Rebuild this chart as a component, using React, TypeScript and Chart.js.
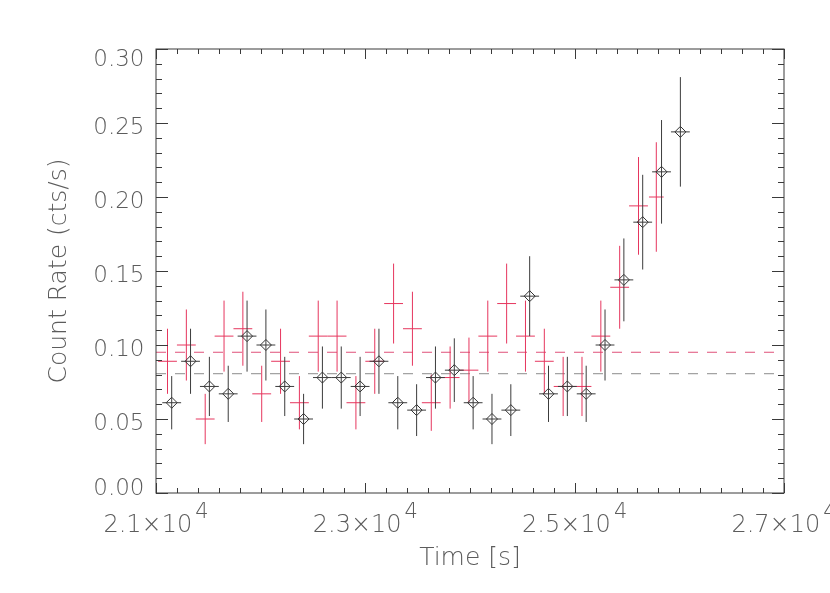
import { useEffect, useRef } from "react";
import { Chart, registerables, Plugin } from "chart.js";

Chart.register(...registerables);

const FONT = "'DejaVu Sans ExtraLight', 'DejaVu Sans', 'Liberation Sans', sans-serif";
const TEXT_COLOR = "#5c5c5c";

// black light curve (diamonds)
const blackTimes = [
  21150, 21330, 21510, 21690, 21870, 22050, 22230, 22410, 22590, 22770,
  22950, 23130, 23310, 23490, 23670, 23850, 24030, 24210, 24390, 24570,
  24750, 24930, 25110, 25290, 25470, 25650, 25830, 26010,
];
const blackRates = [
  0.061, 0.089, 0.072, 0.067, 0.106, 0.1, 0.072, 0.05, 0.078, 0.078,
  0.072, 0.089, 0.061, 0.056, 0.078, 0.083, 0.061, 0.05, 0.056, 0.133,
  0.067, 0.072, 0.067, 0.1, 0.144, 0.183, 0.217, 0.244,
];
const blackErrors = [
  0.018, 0.022, 0.02, 0.019, 0.024, 0.024, 0.02, 0.017, 0.021, 0.021,
  0.02, 0.022, 0.018, 0.0175, 0.021, 0.0215, 0.018, 0.017, 0.0175, 0.027,
  0.019, 0.02, 0.019, 0.024, 0.028, 0.032, 0.035, 0.037,
];
const blackHalfWidths = [
  90, 90, 90, 90, 90, 90, 90, 90, 90, 90, 90, 90, 90, 90, 90, 90, 90, 90,
  90, 90, 90, 90, 90, 90, 90, 90, 90, 90,
];

// red light curve (crosses only)
const redTimes = [
  21110, 21290, 21470, 21650, 21830, 22010, 22190, 22370, 22550, 22730,
  22910, 23090, 23270, 23450, 23630, 23810, 23990, 24170, 24350, 24530,
  24710, 24890, 25070, 25250, 25430, 25610, 25780,
];
const redRates = [
  0.089, 0.1, 0.05, 0.106, 0.111, 0.067, 0.089, 0.061, 0.106, 0.106,
  0.061, 0.089, 0.128, 0.111, 0.061, 0.078, 0.083, 0.106, 0.128, 0.106,
  0.089, 0.072, 0.072, 0.106, 0.139, 0.194, 0.2,
];
const redErrors = [
  0.022, 0.024, 0.017, 0.024, 0.025, 0.019, 0.022, 0.018, 0.024, 0.024,
  0.018, 0.022, 0.027, 0.025, 0.019, 0.021, 0.022, 0.024, 0.027, 0.024,
  0.022, 0.02, 0.02, 0.024, 0.028, 0.033, 0.037,
];
const redHalfWidths = [
  90, 90, 90, 90, 90, 90, 90, 90, 90, 90, 90, 90, 90, 90, 90, 90, 90, 90,
  90, 90, 90, 90, 90, 90, 90, 90, 70,
];

// mean levels (dashed)
const levelSpan = [21000, 26970];
const redLevel = 0.0951;
const blackLevel = 0.0806;

// axes
const xTickValues = [21000, 23000, 25000, 27000];
const xTickLabels = ["2.1", "2.3", "2.5", "2.7"];
const xTickExponent = "4";
const yTickValues = [0, 0.05, 0.1, 0.15, 0.2, 0.25, 0.3];
const yTickLabels = ["0.00", "0.05", "0.10", "0.15", "0.20", "0.25", "0.30"];
const xMinorStep = 200;
const yMinorStep = 0.01;

type ErrPoint = { x: number; y: number; err: number; hw: number };

const toPoints = (t: number[], r: number[], e: number[], h: number[]): ErrPoint[] =>
  t.map((x, i) => ({ x, y: r[i], err: e[i], hw: h[i] }));

const frame: Plugin = {
  id: "frame",
  beforeDatasetDraw(chart, args) {
    const ds: any = chart.data.datasets[args.index];
    if (!ds.errorColor) return;
    const { ctx } = chart;
    const xs = chart.scales.x;
    const ys = chart.scales.y;
    ctx.save();
    ctx.strokeStyle = ds.errorColor;
    ctx.lineWidth = 1;
    (ds.data as ErrPoint[]).forEach((p) => {
      const px = xs.getPixelForValue(p.x);
      const py = ys.getPixelForValue(p.y);
      ctx.beginPath();
      ctx.moveTo(px, ys.getPixelForValue(p.y - p.err));
      ctx.lineTo(px, ys.getPixelForValue(p.y + p.err));
      ctx.moveTo(xs.getPixelForValue(p.x - p.hw), py);
      ctx.lineTo(xs.getPixelForValue(p.x + p.hw), py);
      ctx.stroke();
    });
    ctx.restore();
  },
  afterDraw(chart) {
    const { ctx, chartArea } = chart;
    const { left, right, top, bottom } = chartArea;
    const xs = chart.scales.x;
    const ys = chart.scales.y;
    ctx.save();
    ctx.strokeStyle = "#3a3a3a";
    ctx.lineWidth = 1;
    ctx.strokeRect(left, top, right - left, bottom - top);

    ctx.beginPath();
    for (let v = xs.min; v <= xs.max + 1e-6; v += xMinorStep) {
      const px = Math.round(xs.getPixelForValue(v)) + 0.5;
      const major = xTickValues.some((t) => Math.abs(t - v) < 1e-6);
      const len = major ? 10 : 5;
      ctx.moveTo(px, bottom);
      ctx.lineTo(px, bottom - len);
      ctx.moveTo(px, top);
      ctx.lineTo(px, top + len);
    }
    for (let v = ys.min; v <= ys.max + 1e-9; v += yMinorStep) {
      const py = Math.round(ys.getPixelForValue(v)) + 0.5;
      const major = yTickValues.some((t) => Math.abs(t - v) < 1e-6);
      const len = major ? 12 : 6;
      ctx.moveTo(left, py);
      ctx.lineTo(left + len, py);
      ctx.moveTo(right, py);
      ctx.lineTo(right - len, py);
    }
    ctx.stroke();

    ctx.fillStyle = TEXT_COLOR;
    ctx.textBaseline = "alphabetic";

    // y tick labels
    ctx.font = `200 23px ${FONT}`;
    ctx.textAlign = "right";
    yTickValues.forEach((v, i) => {
      const py = ys.getPixelForValue(v);
      const base = Math.min(Math.max(py + 10.5, top + 17.4), bottom + 1.7);
      ctx.fillText(yTickLabels[i], left - 11.5, base);
    });

    // x tick labels with exponent
    ctx.textAlign = "left";
    xTickValues.forEach((v, i) => {
      const px = xs.getPixelForValue(v);
      const text = `${xTickLabels[i]}\u00d710`;
      ctx.font = `200 24px ${FONT}`;
      const w1 = ctx.measureText(text).width;
      ctx.font = `200 21px ${FONT}`;
      const w2 = ctx.measureText(xTickExponent).width;
      const start = px - (w1 + 3 + w2) / 2;
      ctx.font = `200 24px ${FONT}`;
      ctx.fillText(text, start, bottom + 39);
      ctx.font = `200 21px ${FONT}`;
      ctx.fillText(xTickExponent, start + w1 + 3, bottom + 25);
    });
    ctx.restore();
  },
};

export default function App() {
  const canvasRef = useRef<HTMLCanvasElement>(null);

  useEffect(() => {
    if (!canvasRef.current) return;
    const chart = new Chart(canvasRef.current, {
      type: "scatter",
      data: {
        datasets: [
          {
            label: "black",
            data: toPoints(blackTimes, blackRates, blackErrors, blackHalfWidths),
            // @ts-ignore
            errorColor: "#3c3c3c",
            pointStyle: "rectRot",
            pointRadius: 5.5,
            borderColor: "#333333",
            borderWidth: 1,
            backgroundColor: "rgba(0,0,0,0)",
            order: 0,
          },
          {
            label: "red",
            data: toPoints(redTimes, redRates, redErrors, redHalfWidths),
            // @ts-ignore
            errorColor: "#e6365e",
            pointRadius: 0,
            order: 1,
          },
          {
            type: "line",
            label: "red level",
            data: levelSpan.map((x) => ({ x, y: redLevel })),
            borderColor: "#e0507a",
            borderWidth: 1,
            borderDash: [10, 9],
            pointRadius: 0,
            order: 2,
          },
          {
            type: "line",
            label: "black level",
            data: levelSpan.map((x) => ({ x, y: blackLevel })),
            borderColor: "#8c8c8c",
            borderWidth: 1,
            borderDash: [10, 9],
            pointRadius: 0,
            order: 3,
          },
        ],
      },
      options: {
        animation: false,
        responsive: false,
        events: [],
        layout: { padding: { top: 49, right: 46, left: 0, bottom: 0 } },
        plugins: { legend: { display: false }, tooltip: { enabled: false } },
        scales: {
          x: {
            type: "linear",
            min: 21000,
            max: 27000,
            grid: { display: false },
            border: { display: false },
            ticks: { display: false },
            title: {
              display: true,
              text: "Time [s]",
              color: TEXT_COLOR,
              font: { family: FONT, size: 25, weight: 200 as any },
              padding: { top: 0, bottom: 20 },
            },
            afterFit: (s) => {
              s.height = 100;
            },
          },
          y: {
            type: "linear",
            min: 0,
            max: 0.3,
            grid: { display: false },
            border: { display: false },
            ticks: { display: false },
            title: {
              display: true,
              text: "Count Rate (cts/s)",
              color: TEXT_COLOR,
              font: { family: FONT, size: 25, weight: 200 as any },
              padding: { top: 44, bottom: 0 },
            },
            afterFit: (s) => {
              s.width = 156;
            },
          },
        },
      },
      plugins: [frame],
    });
    return () => chart.destroy();
  }, []);

  return (
    <div style={{ position: "fixed", left: 0, top: 0, width: 830, height: 593, background: "#fff" }}>
      <canvas ref={canvasRef} width={830} height={593} style={{ width: 830, height: 593 }} />
    </div>
  );
}
